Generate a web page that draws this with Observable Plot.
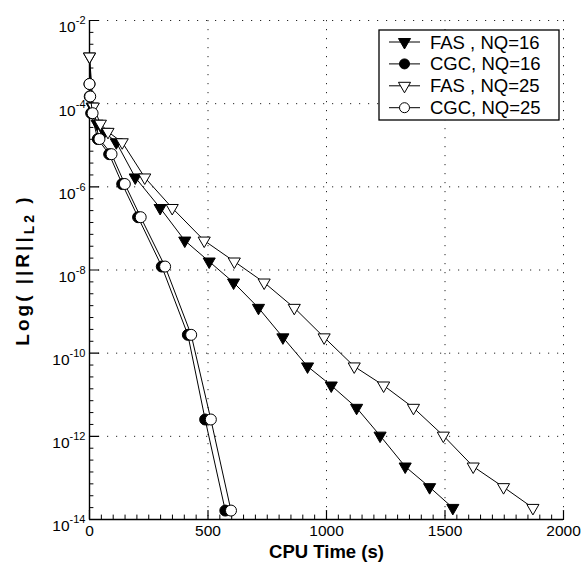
<!DOCTYPE html>
<html><head><meta charset="utf-8">
<script src="https://cdn.jsdelivr.net/npm/d3@7"></script>
<script src="https://cdn.jsdelivr.net/npm/@observablehq/plot@0.6"></script>
<style>
body{margin:0;background:#fff}
svg{font-family:"Liberation Sans",Arial,Helvetica,sans-serif}
</style>
</head><body><div id="chart"></div>
<script>
// ---- data (CPU time in s, residual L2 norm) ----
const fas16Time = [0, 11, 32, 62, 113, 193, 298, 402, 505, 608, 713, 816, 920, 1020, 1127, 1226, 1332, 1435, 1533];
const fas16Res  = [1.36e-3, 8.5e-5, 3.3e-5, 2.1e-5, 1.18e-5, 1.68e-6, 3.1e-7, 5.1e-8, 1.6e-8, 5.0e-9, 1.23e-9, 2.4e-10, 4.8e-11, 1.67e-11, 4.85e-12, 1.04e-12, 1.88e-13, 6.0e-14, 1.9e-14];
const cgc16Time = [0, 1, 7, 35, 83, 138, 205, 305, 415, 488, 573];
const cgc16Res  = [2.97e-4, 1.49e-4, 5.9e-5, 1.41e-5, 6.1e-6, 1.17e-6, 1.86e-7, 1.21e-8, 2.76e-10, 2.54e-12, 1.64e-14];
const fas25Time = [0, 16, 46, 78, 138, 233, 349, 484, 611, 737, 864, 990, 1117, 1241, 1367, 1493, 1619, 1747, 1871];
const fas25Res  = [1.36e-3, 8.5e-5, 3.3e-5, 2.1e-5, 1.18e-5, 1.68e-6, 3.1e-7, 5.1e-8, 1.6e-8, 5.0e-9, 1.23e-9, 2.4e-10, 4.8e-11, 1.67e-11, 4.85e-12, 1.04e-12, 1.88e-13, 6.0e-14, 1.9e-14];
const cgc25Time = [0, 3, 13, 42, 93, 149, 216, 319, 429, 512, 597];
const cgc25Res  = [2.97e-4, 1.49e-4, 5.9e-5, 1.41e-5, 6.1e-6, 1.17e-6, 1.86e-7, 1.21e-8, 2.76e-10, 2.54e-12, 1.64e-14];

const seriesNames = ["FAS , NQ=16", "CGC, NQ=16", "FAS , NQ=25", "CGC, NQ=25"];
const xTicks = [0, 500, 1000, 1500, 2000];
const yTicks = [1e-2, 1e-4, 1e-6, 1e-8, 1e-10, 1e-12, 1e-14];
const yExponents = ["-2", "-4", "-6", "-8", "-10", "-12", "-14"];
const xTitle = "CPU Time (s)";
const yTitle = ["Log( ||R||", "L2", " )"];

// ---- build tables ----
const mk = (t, r) => t.map((x, i) => ({x, y: r[i]}));
const fas16 = mk(fas16Time, fas16Res), cgc16 = mk(cgc16Time, cgc16Res);
const fas25 = mk(fas25Time, fas25Res), cgc25 = mk(cgc25Time, cgc25Res);

const xMinor = d3.range(0, 2001, 50).filter(v => v % 500 !== 0);
const yMinor = [];
for (let e = -2; e > -14; e -= 2) for (let k = 1; k < 7; k++) yMinor.push(Math.pow(10, e - 2 * k / 7));

const tickShape = {draw(ctx, l) { ctx.moveTo(0, 0); ctx.lineTo(0, -l); }};
const TRI_R = 4.5, CIRC_R = 5.5;
const tri = {symbol: "triangle", rotate: 180, r: TRI_R, stroke: "black", strokeWidth: 1};
const circ = {symbol: "circle", r: CIRC_R, stroke: "black", strokeWidth: 1};
const grid = {stroke: "black", strokeWidth: 1, strokeDasharray: "1.2,7.8", strokeOpacity: 0.85};

const plot = Plot.plot({
  width: 583, height: 568,
  marginLeft: 89, marginRight: 20, marginTop: 20, marginBottom: 49,
  x: {domain: [0, 2000], axis: null},
  y: {type: "log", domain: [1e-14, 1e-2], axis: null},
  style: {background: "white", fontFamily: '"Liberation Sans",Arial,sans-serif', overflow: "visible"},
  marks: [
    Plot.ruleX([500, 1000, 1500, 2000], {...grid}),
    Plot.ruleY([1e-2, 1e-4, 1e-6, 1e-8, 1e-10, 1e-12], {...grid}),
    // ticks (inward)
    Plot.vector(xTicks, {x: d => d, y: () => 1e-14, length: 9, rotate: 0, anchor: "start", shape: tickShape, stroke: "black", strokeWidth: 1.2}),
    Plot.vector(xMinor, {x: d => d, y: () => 1e-14, length: 4.5, rotate: 0, anchor: "start", shape: tickShape, stroke: "black", strokeWidth: 1}),
    Plot.vector(yTicks, {x: () => 0, y: d => d, length: 9, rotate: 90, anchor: "start", shape: tickShape, stroke: "black", strokeWidth: 1.2}),
    Plot.vector(yMinor, {x: () => 0, y: d => d, length: 3.5, rotate: 90, anchor: "start", shape: tickShape, stroke: "black", strokeWidth: 1}),
    // axis lines
    Plot.ruleX([0], {stroke: "black", strokeWidth: 1.4}),
    Plot.ruleY([1e-14], {stroke: "black", strokeWidth: 1.4}),
    // tick labels
    Plot.text(xTicks, {x: d => d, y: () => 1e-14, text: d => String(d), dy: 12, fontSize: 15.5, fill: "black"}),
    Plot.text(yTicks, {x: () => 0, y: d => d, text: (d, i) => "10|" + yExponents[i], dx: -4, textAnchor: "end", fontSize: 15.5, fill: "black", className: "ylab"}),
    // titles
    Plot.text([xTitle], {frameAnchor: "bottom", dy: 38, fontWeight: "bold", fontSize: 18.5, fill: "black"}),
    Plot.text([yTitle[0]], {frameAnchor: "left", dx: -67, rotate: -90, textAnchor: "middle", fontWeight: "bold", fontSize: 19, fill: "black", className: "ytitle"}),
    // series
    Plot.line(fas16, {x: "x", y: "y", stroke: "black", strokeWidth: 1}),
    Plot.dot(fas16, {x: "x", y: "y", ...tri, fill: "black"}),
    Plot.line(cgc16, {x: "x", y: "y", stroke: "black", strokeWidth: 1}),
    Plot.dot(cgc16, {x: "x", y: "y", ...circ, fill: "black"}),
    Plot.line(fas25, {x: "x", y: "y", stroke: "black", strokeWidth: 1}),
    Plot.dot(fas25, {x: "x", y: "y", ...tri, fill: "white"}),
    Plot.line(cgc25, {x: "x", y: "y", stroke: "black", strokeWidth: 1}),
    Plot.dot(cgc25, {x: "x", y: "y", ...circ, fill: "white"})
  ]
});

const svg = d3.select(plot);

// superscript exponents on y tick labels
svg.selectAll(".ylab text").each(function() {
  const t = d3.select(this);
  const [base, ex] = t.text().split("|");
  t.text(null).attr("dy", "0.45em");
  t.append("tspan").text(base);
  t.append("tspan").attr("font-size", 11).attr("dy", -8).text(ex);
});

// subscript on y title
svg.selectAll(".ytitle text").each(function() {
  const t = d3.select(this);
  t.text(null).attr("letter-spacing", 3);
  t.append("tspan").text(yTitle[0]);
  t.append("tspan").attr("font-size", 14).attr("dy", 5).text(yTitle[1]);
  t.append("tspan").attr("dy", -5).text(yTitle[2]);
});

// legend
const lg = svg.append("g").attr("text-anchor", "start");
lg.append("rect").attr("x", 379).attr("y", 30).attr("width", 180).attr("height", 90)
  .attr("fill", "white").attr("stroke", "black").attr("stroke-width", 1.3);
const legendStyles = [
  {sym: d3.symbolTriangle, size: Math.PI * TRI_R * TRI_R, rot: 180, fill: "black"},
  {sym: d3.symbolCircle, size: Math.PI * 5 * 5, rot: 0, fill: "black"},
  {sym: d3.symbolTriangle, size: Math.PI * TRI_R * TRI_R, rot: 180, fill: "white"},
  {sym: d3.symbolCircle, size: Math.PI * 5 * 5, rot: 0, fill: "white"}
];
seriesNames.forEach((name, i) => {
  const cy = 42 + i * 21.9;
  const s = legendStyles[i];
  lg.append("line").attr("x1", 389).attr("x2", 420).attr("y1", cy).attr("y2", cy).attr("stroke", "black");
  lg.append("path").attr("d", d3.symbol(s.sym, s.size)()).attr("transform", `translate(404.5,${cy}) rotate(${s.rot})`)
    .attr("fill", s.fill).attr("stroke", "black");
  lg.append("text").attr("x", 430).attr("y", cy + 6.5).attr("font-size", 18.5).attr("fill", "black")
    .attr("text-anchor", "start").text(name);
});

document.getElementById("chart").appendChild(plot);
</script>
</body></html>
